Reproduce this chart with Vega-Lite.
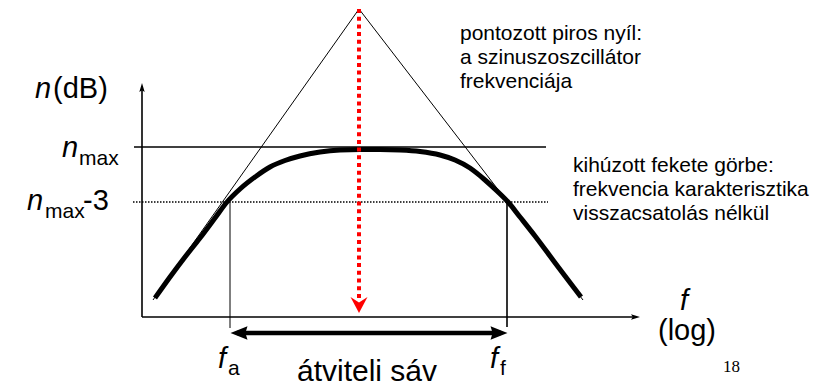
{
  "$schema": "https://vega.github.io/schema/vega-lite/v6.json",
  "width": 825,
  "height": 388,
  "autosize": {"type": "none"},
  "padding": 0,
  "background": "white",
  "config": {"view": {"stroke": null}},
  "datasets": {
    "segs": [
      {"kind": "thin", "x": 11, "y": 17, "x2": 217, "y2": 308},
      {"kind": "thin", "x": 217, "y": 308, "x2": 441, "y2": 17},
      {"kind": "thin", "x": 88, "y": 115, "x2": 88, "y2": -11},
      {"kind": "medium", "x": 0, "y": 0, "x2": 0, "y2": 231},
      {"kind": "medium", "x": 0, "y": 0, "x2": 494, "y2": 0},
      {"kind": "medium", "x": -8, "y": 170, "x2": 404, "y2": 170},
      {"kind": "medium", "x": 365, "y": 115, "x2": 365, "y2": -10},
      {"kind": "dotted", "x": -9, "y": 115, "x2": 406, "y2": 115},
      {"kind": "red", "x": 217, "y": 308, "x2": 217, "y2": 16},
      {"kind": "band", "x": 95, "y": -16, "x2": 359, "y2": -16}
    ],
    "curve": [
      {"x": 13, "y": 19},
      {"x": 28, "y": 40},
      {"x": 43, "y": 60},
      {"x": 58, "y": 79},
      {"x": 73, "y": 99},
      {"x": 85, "y": 115},
      {"x": 98, "y": 128},
      {"x": 113, "y": 140},
      {"x": 128, "y": 150},
      {"x": 143, "y": 156.5},
      {"x": 158, "y": 161},
      {"x": 178, "y": 165},
      {"x": 198, "y": 167},
      {"x": 218, "y": 167.5},
      {"x": 238, "y": 167.5},
      {"x": 258, "y": 167},
      {"x": 278, "y": 165.5},
      {"x": 298, "y": 162},
      {"x": 313, "y": 157},
      {"x": 328, "y": 149},
      {"x": 343, "y": 137},
      {"x": 355, "y": 126},
      {"x": 366, "y": 115},
      {"x": 378, "y": 100},
      {"x": 393, "y": 81},
      {"x": 408, "y": 61},
      {"x": 423, "y": 41},
      {"x": 439, "y": 20}
    ],
    "heads": [
      {"kind": "xaxis", "x": 493.5, "y": 0},
      {"kind": "yaxis", "x": 0, "y": 229.5},
      {"kind": "reddown", "x": 217, "y": 12},
      {"kind": "left", "x": 97, "y": -16},
      {"kind": "right", "x": 357, "y": -16}
    ],
    "texts": [
      {"role": "italic", "text": "n", "x": -107, "y": 219},
      {"role": "label", "text": "(dB)", "x": -89, "y": 219},
      {"role": "italic", "text": "n", "x": -80, "y": 160},
      {"role": "sub", "text": "max", "x": -63, "y": 152},
      {"role": "italic", "text": "n", "x": -115, "y": 107},
      {"role": "sub", "text": "max", "x": -97, "y": 99},
      {"role": "label", "text": "-3", "x": -59, "y": 107},
      {"role": "italic", "text": "f", "x": 76, "y": -51},
      {"role": "sub", "text": "a", "x": 86, "y": -58},
      {"role": "italic", "text": "f", "x": 348, "y": -51},
      {"role": "sub", "text": "f", "x": 358, "y": -58},
      {"role": "big", "text": "átviteli sáv", "x": 155, "y": -64},
      {"role": "italic", "text": "f", "x": 538, "y": 7},
      {"role": "label", "text": "(log)", "x": 516, "y": -23},
      {"role": "page", "text": "18", "x": 581, "y": -55},
      {"role": "note", "text": "pontozott piros nyíl:", "x": 318, "y": 277},
      {"role": "note", "text": "a szinuszoszcillátor", "x": 318, "y": 253},
      {"role": "note", "text": "frekvenciája", "x": 318, "y": 229},
      {"role": "note", "text": "kihúzott fekete görbe:", "x": 431, "y": 145},
      {"role": "note", "text": "frekvencia karakterisztika", "x": 431, "y": 121},
      {"role": "note", "text": "visszacsatolás nélkül", "x": 431, "y": 97}
    ]
  },
  "encoding": {
    "x": {"field": "x", "type": "quantitative", "scale": {"domain": [-142, 683], "nice": false, "zero": false}, "axis": null},
    "y": {"field": "y", "type": "quantitative", "scale": {"domain": [-71, 317], "nice": false, "zero": false}, "axis": null}
  },
  "layer": [
    {
      "data": {"name": "segs"},
      "transform": [{"filter": "datum.kind === 'thin'"}],
      "mark": {"type": "rule", "color": "black", "strokeWidth": 1},
      "encoding": {"x2": {"field": "x2"}, "y2": {"field": "y2"}}
    },
    {
      "data": {"name": "segs"},
      "transform": [{"filter": "datum.kind === 'medium'"}],
      "mark": {"type": "rule", "color": "black", "strokeWidth": 1.6},
      "encoding": {"x2": {"field": "x2"}, "y2": {"field": "y2"}}
    },
    {
      "data": {"name": "segs"},
      "transform": [{"filter": "datum.kind === 'dotted'"}],
      "mark": {"type": "rule", "color": "black", "strokeWidth": 1.5, "strokeDash": [1.5, 1.5]},
      "encoding": {"x2": {"field": "x2"}, "y2": {"field": "y2"}}
    },
    {
      "data": {"name": "curve"},
      "mark": {"type": "line", "color": "black", "strokeWidth": 5, "interpolate": "monotone", "strokeCap": "butt"},
      "encoding": {"order": {"field": "x", "type": "quantitative"}}
    },
    {
      "data": {"name": "segs"},
      "transform": [{"filter": "datum.kind === 'red'"}],
      "mark": {"type": "rule", "color": "#ff0000", "strokeWidth": 4, "strokeDash": [4, 3.7]},
      "encoding": {"x2": {"field": "x2"}, "y2": {"field": "y2"}}
    },
    {
      "data": {"name": "segs"},
      "transform": [{"filter": "datum.kind === 'band'"}],
      "mark": {"type": "rule", "color": "black", "strokeWidth": 4.5},
      "encoding": {"x2": {"field": "x2"}, "y2": {"field": "y2"}}
    },
    {
      "data": {"name": "heads"},
      "transform": [{"filter": "datum.kind === 'reddown'"}],
      "mark": {"type": "point", "filled": true, "color": "#ff0000", "opacity": 1, "size": 289, "shape": "M-1,-0.95L0,0.95L1,-0.95L0,-0.3Z"}
    },
    {
      "data": {"name": "heads"},
      "transform": [{"filter": "datum.kind === 'left'"}],
      "mark": {"type": "point", "filled": true, "color": "black", "opacity": 1, "size": 289, "shape": "M-1,0L1,-0.8L0.75,0L1,0.8Z"}
    },
    {
      "data": {"name": "heads"},
      "transform": [{"filter": "datum.kind === 'right'"}],
      "mark": {"type": "point", "filled": true, "color": "black", "opacity": 1, "size": 289, "shape": "M1,0L-1,-0.8L-0.75,0L-1,0.8Z"}
    },
    {
      "data": {"name": "heads"},
      "transform": [{"filter": "datum.kind === 'xaxis'"}],
      "mark": {"type": "point", "filled": true, "color": "black", "opacity": 1, "size": 81, "shape": "M1,0L-1,-0.6L-0.6,0L-1,0.6Z"}
    },
    {
      "data": {"name": "heads"},
      "transform": [{"filter": "datum.kind === 'yaxis'"}],
      "mark": {"type": "point", "filled": true, "color": "black", "opacity": 1, "size": 81, "shape": "M0,-1L-0.6,1L0,0.6L0.6,1Z"}
    },
    {
      "data": {"name": "texts"},
      "transform": [{"filter": "datum.role === 'italic'"}],
      "mark": {"type": "text", "align": "left", "baseline": "alphabetic", "font": "Liberation Sans", "fontSize": 29, "fontStyle": "italic", "color": "black"},
      "encoding": {"text": {"field": "text"}}
    },
    {
      "data": {"name": "texts"},
      "transform": [{"filter": "datum.role === 'label'"}],
      "mark": {"type": "text", "align": "left", "baseline": "alphabetic", "font": "Liberation Sans", "fontSize": 29, "color": "black"},
      "encoding": {"text": {"field": "text"}}
    },
    {
      "data": {"name": "texts"},
      "transform": [{"filter": "datum.role === 'big'"}],
      "mark": {"type": "text", "align": "left", "baseline": "alphabetic", "font": "Liberation Sans", "fontSize": 30, "color": "black"},
      "encoding": {"text": {"field": "text"}}
    },
    {
      "data": {"name": "texts"},
      "transform": [{"filter": "datum.role === 'sub'"}],
      "mark": {"type": "text", "align": "left", "baseline": "alphabetic", "font": "Liberation Sans", "fontSize": 21, "color": "black"},
      "encoding": {"text": {"field": "text"}}
    },
    {
      "data": {"name": "texts"},
      "transform": [{"filter": "datum.role === 'note'"}],
      "mark": {"type": "text", "align": "left", "baseline": "alphabetic", "font": "Liberation Sans", "fontSize": 21, "color": "black"},
      "encoding": {"text": {"field": "text"}}
    },
    {
      "data": {"name": "texts"},
      "transform": [{"filter": "datum.role === 'page'"}],
      "mark": {"type": "text", "align": "left", "baseline": "alphabetic", "font": "Liberation Serif", "fontSize": 17, "color": "black"},
      "encoding": {"text": {"field": "text"}}
    }
  ]
}
